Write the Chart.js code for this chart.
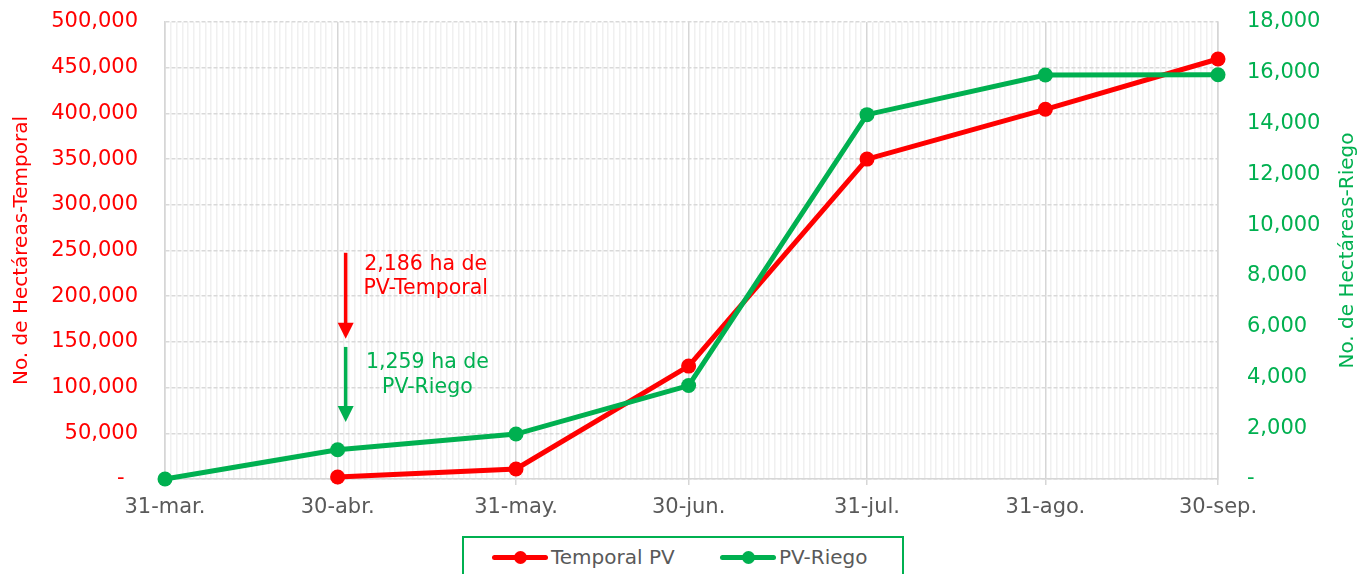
<!DOCTYPE html>
<html lang="es">
<head>
<meta charset="utf-8">
<title>Avance de siembra PV</title>
<script src="https://cdn.jsdelivr.net/npm/chart.js@4/dist/chart.umd.min.js"></script>
<style>
    html, body { margin: 0; padding: 0; background: #ffffff; }
    #wrap { position: relative; width: 1358px; height: 574px; overflow: hidden; }
    #grafica { position: absolute; left: 0; top: 0; }
    #leyenda {
        position: absolute; left: 462px; top: 536px; width: 438px; height: 60px;
        border: 2px solid #00B050; background: #ffffff;
        font-family: "DejaVu Sans", sans-serif; font-size: 20px; color: #595959;
    }
    .item { position: absolute; top: 7px; display: flex; align-items: center; white-space: nowrap; }
    .simbolo { position: relative; display: inline-block; width: 56px; height: 5px; border-radius: 3px; margin-right: 3px; }
    .simbolo::after {
        content: ''; position: absolute; left: 22px; top: -4px; width: 13px; height: 13px;
        border-radius: 50%; background: inherit;
    }
</style>
</head>
<body>
<div id="wrap">
    <canvas id="grafica" width="1358" height="574"></canvas>
    <div id="leyenda">
        <div class="item" style="left:28px"><span class="simbolo" style="background:#FF0000"></span>Temporal PV</div>
        <div class="item" style="left:256px"><span class="simbolo" style="background:#00B050"></span>PV-Riego</div>
    </div>
</div>
<script>
'use strict';

// Fechas de corte (días contados desde el 31 de marzo)
const fechas = ['31-mar.', '30-abr.', '31-may.', '30-jun.', '31-jul.', '31-ago.', '30-sep.'];
const dias = [0, 30, 61, 91, 122, 153, 183];

// Hectáreas acumuladas
const temporalPV = [null, 2186, 11000, 123500, 350000, 404500, 459500];
const pvRiego = [0, 1150, 1770, 3680, 14350, 15910, 15920];

// Ejes
const ticksTemporal = [0, 50000, 100000, 150000, 200000, 250000, 300000, 350000, 400000, 450000, 500000];
const ticksRiego = [0, 2000, 4000, 6000, 8000, 10000, 12000, 14000, 16000, 18000];

// Notas sobre el gráfico
const notaTextos = [['2,186 ha de', 'PV-Temporal'], ['1,259 ha de', 'PV-Riego']];

const ROJO = '#FF0000';
const VERDE = '#00B050';
const GRIS = '#595959';
const FUENTE = '"DejaVu Sans", sans-serif';

const todosLosDias = Array.from({ length: dias[dias.length - 1] + 1 }, (_, i) => i);

function formato(v) {
    return v.toLocaleString('en-US');
}

// Ancho fijo del eje vertical, sin el margen extra que suma ticks.padding arriba/abajo
function fijarEje(ancho) {
    return s => {
        s.width = ancho;
        s.paddingTop = 0;
        s.paddingBottom = 0;
    };
}

// Flechas y textos de las notas, más el título del eje derecho
const notasPlugin = {
    id: 'notas',
    afterDraw(chart) {
        const ctx = chart.ctx;
        const x = chart.scales.x;
        const y = chart.scales.y;

        const flechas = [
            { dia: 31.4, desde: 247500, hasta: 153500, color: ROJO, texto: notaTextos[0], diaTexto: 45.3, yTexto: [235000, 207800] },
            { dia: 31.4, desde: 144500, hasta: 62500, color: VERDE, texto: notaTextos[1], diaTexto: 45.6, yTexto: [126800, 99500] }
        ];

        ctx.save();
        flechas.forEach(f => {
            const px = x.getPixelForValue(f.dia);
            const y0 = y.getPixelForValue(f.desde);
            const y1 = y.getPixelForValue(f.hasta);
            ctx.strokeStyle = f.color;
            ctx.fillStyle = f.color;
            ctx.lineWidth = 3.5;
            ctx.beginPath();
            ctx.moveTo(px, y0);
            ctx.lineTo(px, y1 - 14);
            ctx.stroke();
            ctx.beginPath();
            ctx.moveTo(px - 8, y1 - 16);
            ctx.lineTo(px + 8, y1 - 16);
            ctx.lineTo(px, y1);
            ctx.closePath();
            ctx.fill();

            ctx.font = '20.5px ' + FUENTE;
            ctx.textAlign = 'center';
            ctx.textBaseline = 'middle';
            const tx = x.getPixelForValue(f.diaTexto);
            f.texto.forEach((t, i) => ctx.fillText(t, tx, y.getPixelForValue(f.yTexto[i])));
        });

        // Título del eje derecho (leído de abajo hacia arriba)
        const area = chart.chartArea;
        ctx.translate(1348, (area.top + area.bottom) / 2);
        ctx.rotate(-Math.PI / 2);
        ctx.fillStyle = VERDE;
        ctx.font = '20px ' + FUENTE;
        ctx.textAlign = 'center';
        ctx.textBaseline = 'middle';
        ctx.fillText('No. de Hectáreas-Riego', 0, 0);
        ctx.restore();
    }
};

new Chart(document.getElementById('grafica'), {
    type: 'line',
    data: {
        datasets: [
            {
                label: 'PV-Riego',
                data: dias.map((d, i) => ({ x: d, y: pvRiego[i] })),
                yAxisID: 'y1',
                borderColor: VERDE,
                backgroundColor: VERDE,
                borderWidth: 5,
                pointRadius: 7.5,
                pointBorderWidth: 0,
                tension: 0,
                clip: false
            },
            {
                label: 'Temporal PV',
                data: dias.map((d, i) => ({ x: d, y: temporalPV[i] })),
                yAxisID: 'y',
                borderColor: ROJO,
                backgroundColor: ROJO,
                borderWidth: 5,
                pointRadius: 7.5,
                pointBorderWidth: 0,
                tension: 0,
                clip: false
            }
        ]
    },
    options: {
        responsive: false,
        animation: false,
        layout: { padding: { top: 22, bottom: 55, left: 0, right: 0 } },
        plugins: {
            legend: { display: false }, // leyenda propia en HTML
            tooltip: { enabled: false }
        },
        scales: {
            // Líneas diarias (rejilla menor)
            xDia: {
                type: 'linear',
                position: 'bottom',
                min: 0,
                max: dias[dias.length - 1],
                afterBuildTicks: s => { s.ticks = todosLosDias.map(v => ({ value: v })); },
                afterFit: s => { s.height = 0; },
                ticks: { display: false },
                grid: {
                    color: c => dias.includes(c.tick && c.tick.value) ? 'rgba(0,0,0,0)' : '#f0f0f0',
                    lineWidth: 1.5,
                    drawTicks: false
                },
                border: { display: false }
            },
            x: {
                type: 'linear',
                position: 'bottom',
                min: 0,
                max: dias[dias.length - 1],
                afterBuildTicks: s => { s.ticks = dias.map(v => ({ value: v })); },
                afterFit: s => { s.height = 40; },
                ticks: {
                    autoSkip: false,
                    maxRotation: 0,
                    padding: 10,
                    color: GRIS,
                    font: { family: FUENTE, size: 21 },
                    callback: v => fechas[dias.indexOf(v)]
                },
                grid: { color: '#d6d6d6', lineWidth: 1.5, tickLength: 6 },
                border: { color: '#d6d6d6', width: 1.5 }
            },
            y: {
                position: 'left',
                min: 0,
                max: 500000,
                afterBuildTicks: s => { s.ticks = ticksTemporal.map(v => ({ value: v })); },
                afterFit: fijarEje(165),
                ticks: {
                    padding: 27,
                    color: ROJO,
                    font: { family: FUENTE, size: 21 },
                    callback: v => v === 0 ? '-  ' : formato(v)
                },
                grid: { color: '#d9d9d9', lineWidth: 1.5, drawTicks: false },
                border: { color: '#d6d6d6', width: 1.5, dash: [4, 2] },
                title: {
                    display: true,
                    text: 'No. de Hectáreas-Temporal',
                    color: ROJO,
                    font: { family: FUENTE, size: 20 },
                    padding: { top: 10, bottom: 0 }
                }
            },
            y1: {
                position: 'right',
                min: 0,
                max: 18000,
                afterBuildTicks: s => { s.ticks = ticksRiego.map(v => ({ value: v })); },
                afterFit: fijarEje(140),
                ticks: {
                    padding: 29,
                    color: VERDE,
                    font: { family: FUENTE, size: 21 },
                    callback: v => v === 0 ? '-' : formato(v)
                },
                grid: { drawOnChartArea: false, drawTicks: false },
                border: { color: '#d6d6d6', width: 1.5 }
            }
        }
    },
    plugins: [notasPlugin]
});
</script>
</body>
</html>
